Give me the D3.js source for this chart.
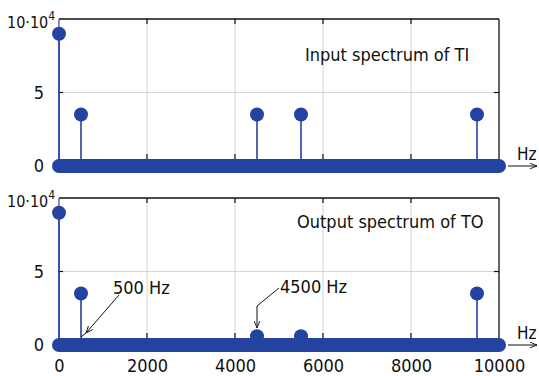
<!DOCTYPE html>
<html>
<head>
<meta charset="utf-8">
<script src="https://cdn.jsdelivr.net/npm/d3@7"></script>
<style>
  body { margin: 0; background: #fff; }
  text { font-family: "DejaVu Sans Condensed", "DejaVu Sans", sans-serif; fill: #111; }
</style>
</head>
<body>
<script>
// spectrum lines (Hz) and amplitudes (x10^4)
var freqs = [0, 500, 4500, 5500, 9500];
var inputAmp = [9, 3.5, 3.5, 3.5, 3.5];
var outputAmp = [9, 3.5, 0.6, 0.6, 3.5];
var xTicks = [0, 2000, 4000, 6000, 8000, 10000];
var yTicks = [0, 5, 10];
var bandExtent = [0, 10000]; // zero-valued lines, drawn as a dense band

var width = 539, height = 376;
var blue = "#2443a0";

var svg = d3.select("body").append("svg")
  .attr("width", width)
  .attr("height", height);

var defs = svg.append("defs");
defs.append("marker")
  .attr("id", "arr")
  .attr("viewBox", "0 0 10 10")
  .attr("refX", 10).attr("refY", 5)
  .attr("markerWidth", 7).attr("markerHeight", 7)
  .attr("orient", "auto-start-reverse")
  .attr("markerUnits", "userSpaceOnUse")
  .append("path")
  .attr("d", "M0,1 L10,5 L0,9")
  .attr("fill", "none")
  .attr("stroke", "#111")
  .attr("stroke-width", 1.3);

var x = d3.scaleLinear().domain([0, 10000]).range([59, 499]);

function panel(top, bottom, amps, title, titleX, titleY) {
  var y = d3.scaleLinear().domain([0, 10]).range([bottom, top]);
  var g = svg.append("g");

  // grid
  g.selectAll(".vg").data(xTicks.slice(1, -1)).enter().append("line")
    .attr("x1", d => x(d)).attr("x2", d => x(d))
    .attr("y1", y(10)).attr("y2", y(0))
    .attr("stroke", "#d4d4d4").attr("stroke-width", 1);
  g.append("line")
    .attr("x1", x(0)).attr("x2", x(10000))
    .attr("y1", y(5)).attr("y2", y(5))
    .attr("stroke", "#d4d4d4").attr("stroke-width", 1);

  // frame
  g.append("line").attr("x1", x(0)).attr("x2", x(10000))
    .attr("y1", y(10)).attr("y2", y(10)).attr("stroke", "#111").attr("stroke-width", 1.3);
  g.append("line").attr("x1", x(10000)).attr("x2", x(10000))
    .attr("y1", y(10)).attr("y2", y(0)).attr("stroke", "#111").attr("stroke-width", 1.3);
  g.append("line").attr("x1", x(0)).attr("x2", x(0))
    .attr("y1", y(10)).attr("y2", y(0)).attr("stroke", "#4a4f9a").attr("stroke-width", 1.3);

  // ticks
  g.selectAll(".tt").data(xTicks.slice(1, -1)).enter().append("line")
    .attr("x1", d => x(d)).attr("x2", d => x(d))
    .attr("y1", y(10)).attr("y2", y(10) + 5).attr("stroke", "#111").attr("stroke-width", 1.2);
  g.selectAll(".tb").data(xTicks.slice(1, -1)).enter().append("line")
    .attr("x1", d => x(d)).attr("x2", d => x(d))
    .attr("y1", y(0)).attr("y2", y(0) - 12).attr("stroke", "#111").attr("stroke-width", 1.2);
  g.append("line").attr("x1", x(10000)).attr("x2", x(10000) - 5)
    .attr("y1", y(5)).attr("y2", y(5)).attr("stroke", "#111").attr("stroke-width", 1.2);
  g.append("line").attr("x1", x(0)).attr("x2", x(0) + 4)
    .attr("y1", y(5)).attr("y2", y(5)).attr("stroke", "#111").attr("stroke-width", 1.2);

  // y labels
  g.selectAll(".yl").data(yTicks.slice(0, 2)).enter().append("text")
    .attr("x", 44).attr("y", d => y(d) + 6)
    .attr("text-anchor", "end")
    .style("font-size", "18px")
    .text(d => d);
  var top10 = g.append("text").attr("x", 7).attr("y", y(10) + 9).style("font-size", "16px");
  top10.append("tspan").text("10\u00b710");
  top10.append("tspan").attr("dy", -8).style("font-size", "12px").text("4");

  // Hz arrow
  g.append("line")
    .attr("x1", x(10000) + 9).attr("x2", x(10000) + 38)
    .attr("y1", y(0)).attr("y2", y(0))
    .attr("stroke", "#111").attr("stroke-width", 1)
    .attr("marker-end", "url(#arr)");
  g.append("text").attr("x", 517).attr("y", y(0) - 6)
    .style("font-size", "17px").text("Hz");

  // zero-valued band
  g.append("line")
    .attr("x1", x(bandExtent[0])).attr("x2", x(bandExtent[1]))
    .attr("y1", y(0)).attr("y2", y(0))
    .attr("stroke", blue).attr("stroke-width", 14).attr("stroke-linecap", "round");

  // stems
  var data = freqs.map((f, i) => ({ f: f, a: amps[i] }));
  g.selectAll(".stem").data(data).enter().append("line")
    .attr("x1", d => x(d.f)).attr("x2", d => x(d.f))
    .attr("y1", y(0)).attr("y2", d => y(d.a))
    .attr("stroke", blue).attr("stroke-width", 1.6);
  g.selectAll(".dot").data(data).enter().append("circle")
    .attr("cx", d => x(d.f)).attr("cy", d => y(d.a))
    .attr("r", 7).attr("fill", blue);

  g.append("text").attr("x", titleX).attr("y", titleY)
    .style("font-size", "18px").text(title);

  return y;
}

var y1 = panel(19, 166, inputAmp, "Input spectrum of TI", 305, 61);
var y2 = panel(198, 345, outputAmp, "Output spectrum of TO", 297, 228);

// x tick labels (bottom panel)
var xAxis = d3.axisBottom(x).tickValues(xTicks).tickFormat(d3.format("d")).tickSize(0).tickPadding(0);
var ax = svg.append("g").attr("transform", "translate(0,359)").call(xAxis);
ax.select(".domain").remove();
ax.selectAll("text")
  .style("font-size", "18px")
  .style("font-family", "'DejaVu Sans Condensed', 'DejaVu Sans', sans-serif")
  .attr("fill", "#111");

// annotations
svg.append("text").attr("x", 113).attr("y", 294).style("font-size", "18px").text("500 Hz");
svg.append("polyline")
  .attr("points", [[119, 295], [x(500) + 5, y2(0) - 12]].join(" "))
  .attr("fill", "none").attr("stroke", "#111").attr("stroke-width", 1)
  .attr("marker-end", "url(#arr)");
svg.append("line")
  .attr("x1", x(500) + 5).attr("y1", y2(0) - 12)
  .attr("x2", x(500)).attr("y2", y2(0) - 8)
  .attr("stroke", "#111").attr("stroke-width", 1);

svg.append("text").attr("x", 280).attr("y", 293).style("font-size", "18px").text("4500 Hz");
svg.append("polyline")
  .attr("points", [[279, 288], [x(4500), 306], [x(4500), y2(0) - 17]].join(" "))
  .attr("fill", "none").attr("stroke", "#111").attr("stroke-width", 1)
  .attr("marker-end", "url(#arr)");
</script>
</body>
</html>
